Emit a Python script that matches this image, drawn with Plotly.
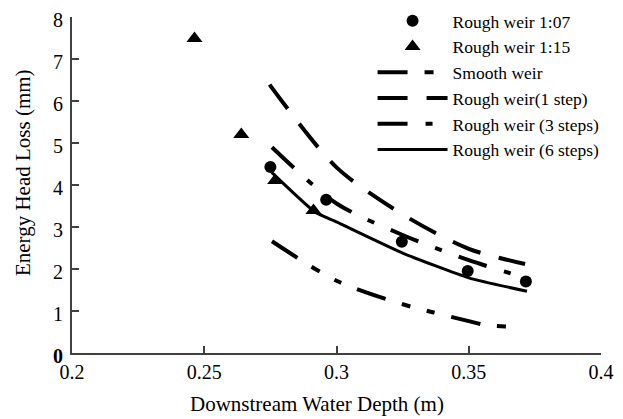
import plotly.graph_objects as go

# ---- data ----
x_rough_107 = [0.275, 0.2961, 0.3247, 0.3496, 0.3716]
y_rough_107 = [4.43, 3.65, 2.65, 1.95, 1.70]

x_rough_115 = [0.2463, 0.264, 0.2768, 0.2913]
y_rough_115 = [7.49, 5.20, 4.11, 3.39]

x_smooth = [0.2756, 0.300, 0.325, 0.350, 0.356, 0.365]
y_smooth = [2.66, 1.72, 1.16, 0.76, 0.67, 0.63]

x_step1 = [0.2747, 0.300, 0.325, 0.350, 0.3713]
y_step1 = [6.39, 4.42, 3.30, 2.48, 2.12]

x_step3 = [0.2756, 0.300, 0.325, 0.350, 0.372]
y_step3 = [4.90, 3.56, 2.81, 2.21, 1.78]

x_step6 = [0.2755, 0.292, 0.300, 0.325, 0.350, 0.372]
y_step6 = [4.30, 3.35, 3.12, 2.38, 1.79, 1.47]

x_ticks = [0.2, 0.25, 0.3, 0.35, 0.4]
x_ticktext = ["0.2", "0.25", "0.3", "0.35", "0.4"]
y_ticks = [0, 1, 2, 3, 4, 5, 6, 7, 8]
y_ticktext = ["<b>0</b>", "1", "2", "3", "4", "5", "6", "7", "8"]

names = ["Rough weir 1:07", "Rough weir 1:15", "Smooth weir",
         "Rough weir(1 step)", "Rough weir (3 steps)", "Rough weir (6 steps)"]

FONT = "Liberation Serif"
fig = go.Figure()

fig.add_trace(go.Scatter(x=x_smooth, y=y_smooth, mode="lines", name=names[2],
                         line=dict(color="black", width=4, shape="spline", smoothing=0.8,
                                   dash="30px,17px,9px,17px,8px,17px"), legendrank=3))
fig.add_trace(go.Scatter(x=x_step1, y=y_step1, mode="lines", name=names[3],
                         line=dict(color="black", width=4, shape="spline", smoothing=0.8,
                                   dash="30px,19px"), legendrank=4))
fig.add_trace(go.Scatter(x=x_step3, y=y_step3, mode="lines", name=names[4],
                         line=dict(color="black", width=4, shape="spline", smoothing=0.8,
                                   dash="30px,18px,7px,18px"), legendrank=5))
fig.add_trace(go.Scatter(x=x_step6, y=y_step6, mode="lines", name=names[5],
                         line=dict(color="black", width=3, shape="spline", smoothing=0.5),
                         legendrank=6))
fig.add_trace(go.Scatter(x=x_rough_107, y=y_rough_107, mode="markers", name=names[0],
                         marker=dict(symbol="circle", size=12, color="black"), legendrank=1))
fig.add_trace(go.Scatter(x=x_rough_115, y=y_rough_115, mode="markers", name=names[1],
                         marker=dict(symbol="triangle-up", size=14, color="black"), legendrank=2))

axis_common = dict(showgrid=False, zeroline=False, showline=True, linecolor="#404040",
                   linewidth=2, ticks="inside", ticklen=7, tickwidth=1.5, tickcolor="#404040",
                   tickfont=dict(family=FONT, size=20, color="black"), mirror=False)

fig.update_xaxes(range=[0.2, 0.4], tickvals=x_ticks, ticktext=x_ticktext, **axis_common)
fig.update_yaxes(range=[0, 8], tickvals=y_ticks, ticktext=y_ticktext, ticklabelshift=3,
                 ticklabelstandoff=3, **axis_common)

fig.update_layout(
    width=623, height=419,
    margin=dict(l=72, r=22, t=17, b=66, autoexpand=False),
    paper_bgcolor="white", plot_bgcolor="white",
    font=dict(family=FONT, color="black"),
    showlegend=True,
    legend=dict(xref="container", yref="container", x=0.598, y=0.993,
                xanchor="left", yanchor="top",
                font=dict(family=FONT, size=17.5, color="black"),
                itemwidth=70, bgcolor="rgba(0,0,0,0)", tracegroupgap=0),
    annotations=[
        dict(text="Downstream Water Depth (m)", xref="paper", yref="paper",
             x=0.463, y=-0.152, xanchor="center", yanchor="middle", showarrow=False,
             font=dict(family=FONT, size=21, color="black")),
        dict(text="Energy Head Loss (mm)", xref="paper", yref="paper",
             x=-0.0936, y=0.537, xanchor="center", yanchor="middle", showarrow=False,
             textangle=-90, font=dict(family=FONT, size=21, color="black")),
    ],
)

fig.write_html("out.html")
